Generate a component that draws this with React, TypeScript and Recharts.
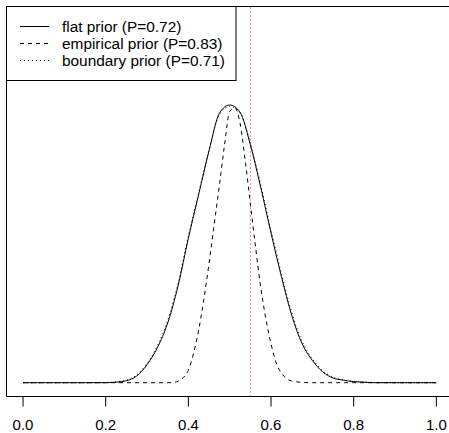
import React from 'react';
import { LineChart, Line, XAxis, YAxis, ReferenceLine, Legend } from 'recharts';

// Posterior curves (scaled so the flat-prior peak is 1)
const gridX = [
  0, 0.05, 0.1, 0.15, 0.2, 0.225, 0.25, 0.275, 0.3, 0.325, 0.35, 0.375, 0.4, 0.425, 0.45, 0.475,
  0.5, 0.525, 0.55, 0.575, 0.6, 0.625, 0.65, 0.675, 0.7, 0.725, 0.75, 0.775, 0.8, 0.825, 0.85,
  0.9, 0.95, 1.0,
];
const flatPrior = [
  0, 0, 0, 0, 0, 0.002, 0.007, 0.024, 0.065, 0.126, 0.215, 0.348, 0.52, 0.678, 0.835, 0.97,
  1.0, 0.974, 0.857, 0.704, 0.539, 0.383, 0.243, 0.141, 0.08, 0.039, 0.017, 0.009, 0.004, 0.002, 0,
  0, 0, 0,
];
const boundaryPrior = [
  0, 0, 0, 0, 0.001, 0.003, 0.009, 0.028, 0.07, 0.133, 0.224, 0.358, 0.528, 0.684, 0.838, 0.965,
  0.995, 0.972, 0.862, 0.712, 0.549, 0.394, 0.253, 0.149, 0.086, 0.043, 0.02, 0.01, 0.005, 0.002, 0.001,
  0, 0, 0,
];
const empiricalX = [
  0, 0.1, 0.2, 0.3, 0.35, 0.3625, 0.375, 0.3875, 0.4, 0.4125, 0.425, 0.4375, 0.45, 0.4625, 0.475,
  0.4875, 0.5, 0.5125, 0.525, 0.5375, 0.55, 0.5625, 0.575, 0.5875, 0.6, 0.6125, 0.625, 0.6375, 0.65,
  0.6625, 0.675, 0.7, 0.8, 0.9, 1.0,
];
const empiricalPrior = [
  0, 0, 0, 0, 0, 0.001, 0.005, 0.018, 0.045, 0.105, 0.19, 0.3, 0.43, 0.57, 0.71,
  0.856, 0.977, 0.99, 0.935, 0.8, 0.645, 0.49, 0.345, 0.23, 0.14, 0.072, 0.035, 0.015, 0.006,
  0.003, 0.001, 0, 0, 0, 0,
];
const xTicks = [0, 0.2, 0.4, 0.6, 0.8, 1.0];
const cutoff = 0.55;
const priorLabels = ['flat prior (P=0.72)', 'empirical prior (P=0.83)', 'boundary prior (P=0.71)'];
const priorDashes = ['', '4 4', '1 3'];

const flatData = gridX.map((x, i) => ({ x, y: flatPrior[i] }));
const boundaryData = gridX.map((x, i) => ({ x, y: boundaryPrior[i] }));
const empiricalData = empiricalX.map((x, i) => ({ x, y: empiricalPrior[i] }));

const FONT = '"Liberation Sans", Arial, Helvetica, sans-serif';
const X_DOMAIN: [number, number] = [-0.04, 1.0306];
const Y_DOMAIN: [number, number] = [-0.0497, 1.3547];

function LegendBox() {
  const rows = [20.5, 37.5, 54.5];
  return (
    <svg width={232} height={76} style={{ display: 'block' }}>
      <rect x={0.5} y={0.5} width={229.5} height={74} fill="#fff" stroke="#000" strokeWidth={1} />
      {priorLabels.map((label, i) => (
        <g key={label}>
          <line
            x1={14}
            x2={43.3}
            y1={rows[i]}
            y2={rows[i]}
            stroke="#000"
            strokeWidth={1}
            strokeDasharray={priorDashes[i] || undefined}
          />
          <text x={56} y={rows[i] + 5.4} fontFamily={FONT} fontSize={15.4} fill="#000">
            {label}
          </text>
        </g>
      ))}
    </svg>
  );
}

export default function App() {
  return (
    <div style={{ position: 'absolute', left: 0, top: 0, fontFamily: FONT }}>
      <LineChart width={449} height={433} margin={{ top: 6.5, right: 0, left: 6.5, bottom: 0 }}>
        <XAxis
          dataKey="x"
          type="number"
          domain={X_DOMAIN}
          allowDataOverflow
          ticks={xTicks}
          tickFormatter={(v: number) => v.toFixed(1)}
          tickSize={10}
          tickMargin={13}
          height={36.5}
          axisLine={{ stroke: '#000' }}
          tickLine={{ stroke: '#000' }}
          tick={{ fill: '#000', fontSize: 15, fontFamily: FONT }}
          interval={0}
        />
        <YAxis type="number" domain={Y_DOMAIN} allowDataOverflow hide />
        <ReferenceLine x={X_DOMAIN[0]} stroke="#000" strokeWidth={1} />
        <ReferenceLine y={Y_DOMAIN[1]} stroke="#000" strokeWidth={1} />
        <ReferenceLine x={cutoff} stroke="#ff0000" strokeWidth={1} strokeDasharray="1 3" />
        <Line
          data={boundaryData}
          dataKey="y"
          type="monotone"
          stroke="#000"
          strokeWidth={1}
          strokeDasharray="1 3"
          dot={false}
          isAnimationActive={false}
        />
        <Line
          data={empiricalData}
          dataKey="y"
          type="monotone"
          stroke="#000"
          strokeWidth={1}
          strokeDasharray="4 4"
          dot={false}
          isAnimationActive={false}
        />
        <Line
          data={flatData}
          dataKey="y"
          type="monotone"
          stroke="#000"
          strokeWidth={1}
          dot={false}
          isAnimationActive={false}
        />
        <Legend
          layout="horizontal"
          verticalAlign="middle"
          align="center"
          content={() => <LegendBox />}
          wrapperStyle={{ left: 6, top: 6, width: 'auto', height: 'auto' }}
        />
      </LineChart>
    </div>
  );
}
